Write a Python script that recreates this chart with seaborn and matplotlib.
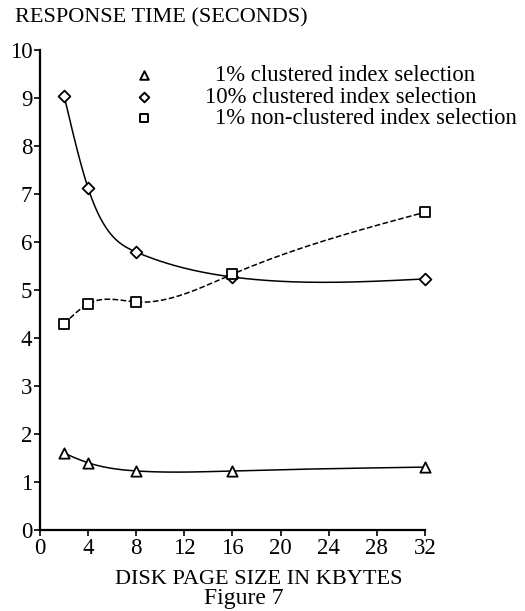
import numpy as np
import pandas as pd
import matplotlib
matplotlib.use("Agg")
import matplotlib.pyplot as plt
import seaborn as sns

# Disk page size (KB) and response times (seconds)
page_kb = [2, 4, 8, 16, 32]
clustered_1pct = [1.60, 1.40, 1.23, 1.23, 1.31]
clustered_10pct = [9.05, 7.12, 5.79, 5.27, 5.23]
nonclustered_1pct = [4.29, 4.71, 4.75, 5.33, 6.62]

series_names = ["1% clustered index selection",
                "10% clustered index selection",
                "1% non-clustered index selection"]
series_values = [clustered_1pct, clustered_10pct, nonclustered_1pct]
series_markers = ["^", "D", "s"]
series_dash = ["-", "-", "--"]

x_ticks = [0, 4, 8, 12, 16, 20, 24, 28, 32]
y_ticks = list(range(0, 11))


def natural_spline(x, y, xs):
    """Natural cubic spline through (x, y), evaluated at xs."""
    x = np.asarray(x, float)
    y = np.asarray(y, float)
    n = len(x)
    h = np.diff(x)
    A = np.zeros((n, n))
    b = np.zeros(n)
    A[0, 0] = A[-1, -1] = 1.0
    for i in range(1, n - 1):
        A[i, i - 1] = h[i - 1]
        A[i, i] = 2 * (h[i - 1] + h[i])
        A[i, i + 1] = h[i]
        b[i] = 6 * ((y[i + 1] - y[i]) / h[i] - (y[i] - y[i - 1]) / h[i - 1])
    M = np.linalg.solve(A, b)
    out = np.empty_like(xs)
    for k, xv in enumerate(xs):
        i = min(max(np.searchsorted(x, xv) - 1, 0), n - 2)
        t0 = x[i + 1] - xv
        t1 = xv - x[i]
        out[k] = (M[i] * t0 ** 3 / (6 * h[i]) + M[i + 1] * t1 ** 3 / (6 * h[i])
                  + (y[i] / h[i] - M[i] * h[i] / 6) * t0
                  + (y[i + 1] / h[i] - M[i + 1] * h[i] / 6) * t1)
    return out


sns.set_theme(style="white")
plt.rcParams["font.family"] = ["Liberation Serif", "DejaVu Serif"]

fig = plt.figure(figsize=(5.25, 6.11), dpi=100)
ax = fig.add_axes([0.0762, 0.1326, 0.7333, 0.7856])

rows = []
for name, vals in zip(series_names, series_values):
    for xv, yv in zip(page_kb, vals):
        rows.append({"series": name, "page": xv, "time": yv})
df = pd.DataFrame(rows)

for name, vals, mk, ls in zip(series_names, series_values, series_markers, series_dash):
    xs = np.linspace(page_kb[0], page_kb[-1], 400)
    ys = natural_spline(page_kb, vals, xs)
    sns.lineplot(x=xs, y=ys, ax=ax, color="black", lw=1.1, linestyle=ls,
                 estimator=None, sort=False)
    sub = df[df["series"] == name]
    ms = 55 if mk != "D" else 36
    sns.scatterplot(data=sub, x="page", y="time", ax=ax, marker=mk, s=ms,
                    facecolor="white", edgecolor="black", linewidth=1.3,
                    zorder=5, clip_on=False)

ax.set_xlim(0, 32)
ax.set_ylim(0, 10)
ax.set_xticks(x_ticks)
ax.set_yticks(y_ticks)
ax.set_xticklabels([str(t) for t in x_ticks])
ax.set_yticklabels([str(t) for t in y_ticks])
ax.tick_params(axis="both", direction="out", length=4, width=1.2,
               labelsize=16.5, color="black", labelcolor="black", pad=1.5,
               left=True, bottom=True)
for side in ["top", "right"]:
    ax.spines[side].set_visible(False)
for side in ["left", "bottom"]:
    ax.spines[side].set_color("black")
    ax.spines[side].set_linewidth(1.6)
ax.set_xlabel("")
ax.set_ylabel("")
ax.grid(False)

# Legend: markers in one column, text beside them
leg_y = [0.947, 0.902, 0.858]
leg_text_x = [0.455, 0.428, 0.455]
for yy, mk, name, tx in zip(leg_y, series_markers, series_names, leg_text_x):
    ax.scatter([0.27], [yy], transform=ax.transAxes, marker=mk,
               s=38 if mk != "D" else 24, facecolor="white",
               edgecolor="black", linewidth=1.4, clip_on=False, zorder=6)
    ax.text(tx, yy, name, transform=ax.transAxes, fontsize=16.3,
            va="center", ha="left", color="black")

fig.text(0.028, 0.971, "RESPONSE TIME (SECONDS)", fontsize=16,
         ha="left", va="center", color="black")
fig.text(0.4935, 0.051, "DISK PAGE SIZE IN KBYTES", fontsize=16,
         ha="center", va="center", color="black")
fig.text(0.465, 0.021, "Figure 7", fontsize=17,
         ha="center", va="center", color="black")

fig.savefig("out.png", dpi=100, facecolor="white")
